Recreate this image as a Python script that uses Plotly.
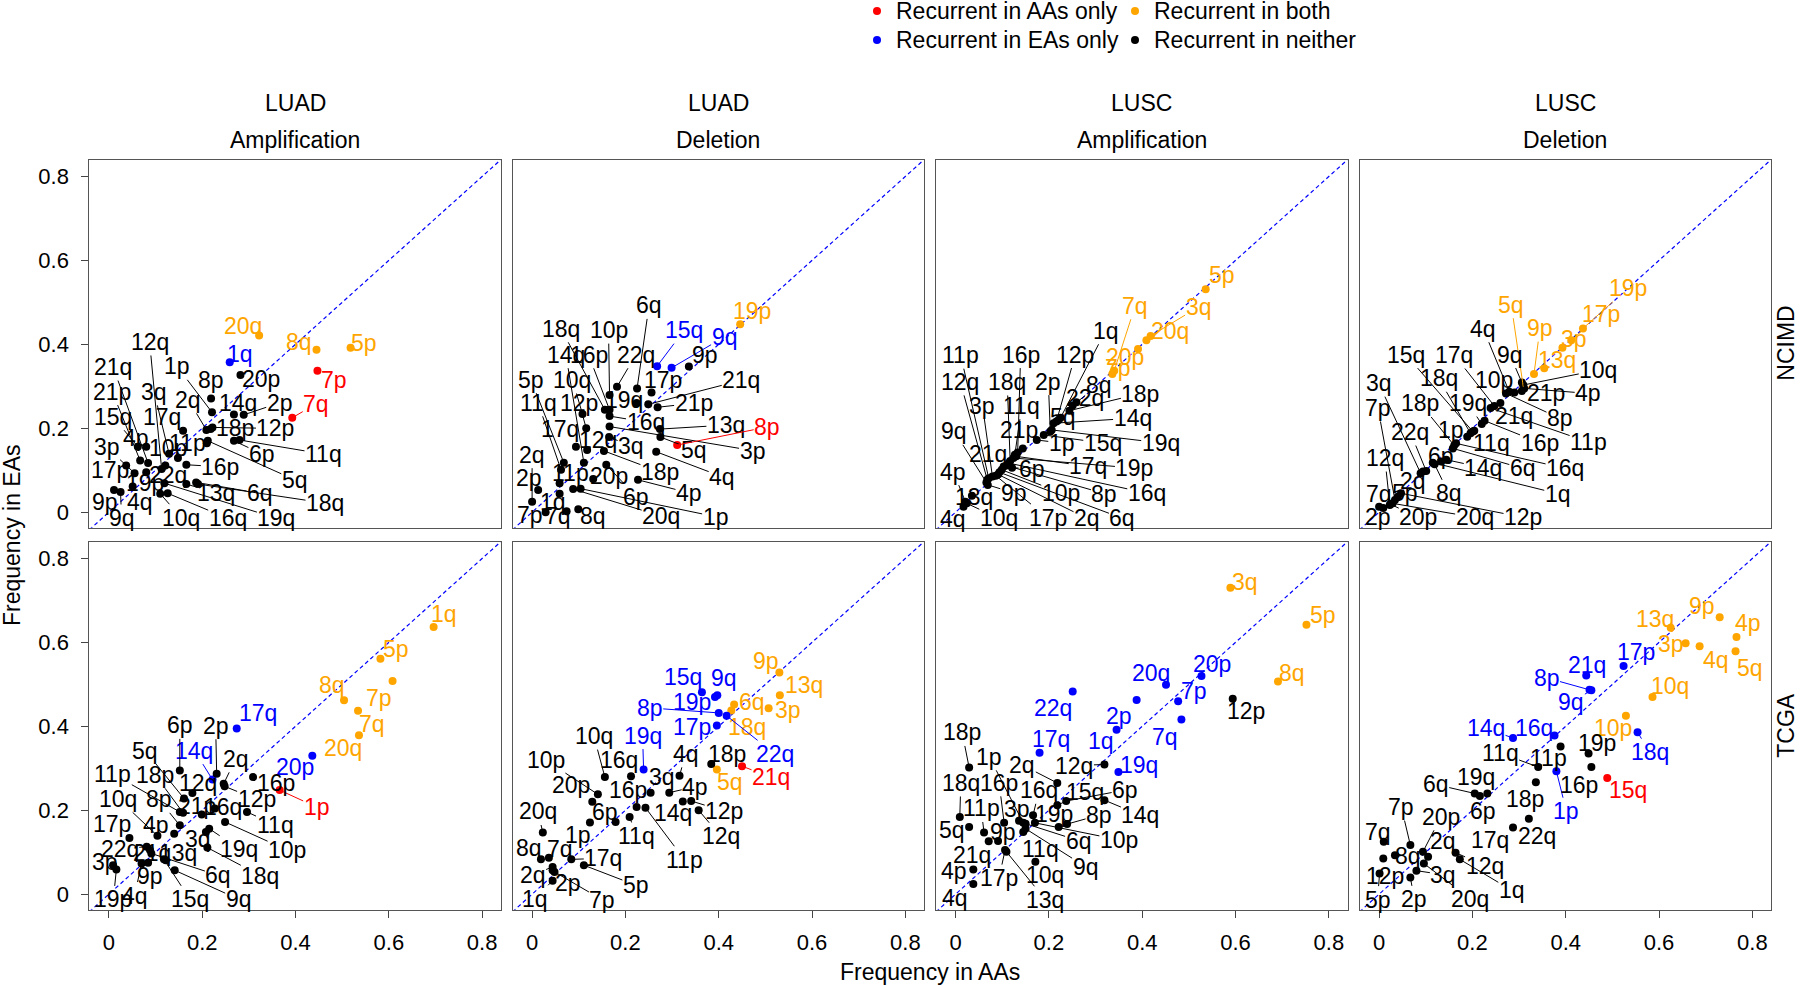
import plotly.graph_objects as go

FONT = "Liberation Sans, Arial, Helvetica, sans-serif"
FS = 23
TICK_FS = 22
STATUS_COLORS = {"A": "#FF0000", "B": "#FFA500", "E": "#0000FF", "N": "#000000"}
LEGEND_ITEMS = [("A", "Recurrent in AAs only"), ("B", "Recurrent in both"),
                ("E", "Recurrent in EAs only"), ("N", "Recurrent in neither")]

TICKS = [0, 0.2, 0.4, 0.6, 0.8]
TICK_TEXT = ["0", "0.2", "0.4", "0.6", "0.8"]
COHORTS = ["NCIMD", "TCGA"]
COL_TYPES = ["LUAD", "LUAD", "LUSC", "LUSC"]
COL_EVENTS = ["Amplification", "Deletion", "Amplification", "Deletion"]

# ---------------- NCIMD, LUAD amplification ----------------
P1_ARMS = ["1q", "20q", "8q", "5p", "7p", "7q", "20p", "8p", "1p", "14q",
           "2p", "2q", "18p", "12p", "17q", "11p", "5q", "6p", "11q", "4p",
           "21q", "21p", "15q", "3p", "17p", "19p", "22q", "3q", "12q", "10p",
           "16p", "13q", "6q", "18q", "19q", "4q", "9p", "9q", "10q", "16q"]
P1_AA = [.259, .322, .445, .518, .447, .393, .282, .219, .221, .268,
         .289, .209, .218, .222, .159, .210, .212, .268, .280, .080,
         .084, .067, .062, .055, .037, .080, .121, .129, .113, .148,
         .166, .166, .187, .191, .119, .051, .011, .025, .110, .126]
P1_EA = [.357, .421, .387, .392, .337, .225, .327, .271, .238, .233,
         .232, .196, .198, .202, .194, .164, .170, .170, .172, .156,
         .117, .123, .156, .093, .111, .095, .111, .139, .103, .129,
         .113, .067, .071, .067, .069, .061, .053, .048, .044, .045]
P1_STATUS = "EBBBAANNNN" "NNNNNNNNNN" "NNNNNNNNNN" "NNNNNNNNNN"

# ---------------- NCIMD, LUAD deletion ----------------
P2_ARMS = ["19p", "15q", "9q", "9p", "6q", "22q", "17p", "10p", "19q", "21q",
           "21p", "18q", "16p", "16q", "10q", "12p", "3p", "13q", "5q", "8p",
           "17q", "14q", "3q", "12q", "18p", "4q", "11q", "5p", "11p", "20p",
           "6p", "4p", "20q", "1p", "2p", "2q", "1q", "7p", "7q", "8q"]
P2_AA = [.446, .268, .299, .336, .225, .182, .256, .166, .224, .249,
         .269, .156, .166, .166, .108, .116, .166, .274, .275, .311,
         .094, .111, .165, .118, .154, .266, .062, .068, .059, .131,
         .159, .227, .088, .104, .013, .000, .059, .029, .074, .099]
P2_EA = [.448, .348, .344, .347, .295, .299, .285, .279, .260, .257,
         .250, .244, .244, .229, .234, .200, .204, .198, .179, .160,
         .156, .118, .179, .148, .146, .144, .101, .118, .069, .079,
         .113, .077, .055, .056, .053, .025, .044, .000, .002, .007]
P2_STATUS = "BEENNNNNNN" "NNNNNNNNNA" "NNNNNNNNNN" "NNNNNNNNNN"

# ---------------- NCIMD, LUSC amplification ----------------
P3_ARMS = ["5p", "3q", "20q", "20p", "7p", "7q", "22q", "8q", "18p", "1q",
           "5q", "12p", "14q", "2p", "19q", "15q", "1p", "21p", "16p", "11q",
           "17q", "19p", "18q", "16q", "6p", "8p", "21q", "10p", "6q", "2q",
           "17p", "3p", "11p", "12q", "9q", "9p", "13q", "4p", "10q", "4q"]
P3_AA = [.536, .418, .409, .391, .336, .340, .259, .251, .244, .225,
         .221, .216, .210, .203, .206, .189, .174, .144, .133, .127,
         .130, .124, .117, .114, .121, .109, .103, .099, .094, .091,
         .086, .079, .071, .068, .066, .069, .035, .021, .024, .017]
P3_EA = [.531, .420, .410, .389, .329, .337, .262, .254, .242, .225,
         .220, .216, .212, .192, .196, .184, .172, .152, .142, .137,
         .133, .129, .122, .117, .106, .111, .109, .101, .095, .090,
         .087, .085, .081, .077, .071, .065, .039, .025, .021, .013]
P3_STATUS = "BBBBBBNNNN" "NNNNNNNNNN" "NNNNNNNNNN" "NNNNNNNNNN"

# ---------------- NCIMD, LUSC deletion ----------------
P4_ARMS = ["19p", "17p", "3p", "13q", "9p", "5q", "9q", "10q", "4p", "21p",
           "10p", "4q", "8p", "21q", "17q", "11p", "16p", "19q", "15q", "18q",
           "11q", "1p", "16q", "6q", "18p", "14q", "6p", "1q", "8q", "22q",
           "3q", "2q", "12p", "5p", "20q", "20p", "7p", "12q", "7q", "2p"]
P4_AA = [.437, .412, .393, .354, .332, .309, .306, .309, .311, .306,
         .290, .279, .272, .260, .247, .239, .226, .220, .201, .196,
         .204, .189, .165, .158, .161, .144, .133, .115, .119, .101,
         .089, .094, .047, .040, .029, .024, .034, .023, .000, .009]
P4_EA = [.438, .410, .392, .343, .329, .299, .309, .303, .295, .289,
         .285, .287, .283, .260, .253, .248, .218, .210, .192, .188,
         .194, .180, .164, .152, .159, .125, .121, .118, .114, .098,
         .093, .097, .045, .037, .021, .019, .029, .017, .013, .010]
P4_STATUS = "BBBBBBNNNN" "NNNNNNNNNN" "NNNNNNNNNN" "NNNNNNNNNN"

# ---------------- TCGA, LUAD amplification ----------------
P5_ARMS = ["1q", "5p", "7p", "8q", "7q", "20q", "17q", "20p", "14q", "1p",
           "6p", "2p", "2q", "12p", "16p", "12q", "5q", "11p", "18p", "21p",
           "16q", "11q", "10p", "8p", "10q", "4p", "3q", "19q", "17p", "22q",
           "21q", "13q", "15q", "6q", "18q", "9p", "4q", "3p", "19p", "9q"]
P5_AA = [.696, .582, .608, .504, .534, .536, .274, .436, .222, .366,
         .152, .231, .246, .248, .309, .179, .161, .152, .159, .199,
         .227, .296, .249, .152, .104, .140, .208, .215, .044, .081,
         .088, .122, .118, .091, .211, .084, .070, .009, .016, .141]
P5_EA = [.637, .561, .508, .462, .437, .379, .395, .330, .273, .248,
         .295, .287, .263, .257, .279, .241, .228, .196, .194, .190,
         .204, .196, .172, .164, .139, .144, .148, .156, .134, .113,
         .105, .081, .083, .097, .111, .075, .073, .069, .059, .057]
P5_STATUS = "BBBBBBEEEA" "NNNNNNNNNN" "NNNNNNNNNN" "NNNNNNNNNN"

# ---------------- TCGA, LUAD deletion ----------------
P6_ARMS = ["9p", "13q", "6q", "3p", "18q", "5q", "15q", "9q", "19p", "8p",
           "17p", "22q", "19q", "21q", "18p", "4q", "3q", "4p", "10q", "16q",
           "10p", "20p", "16p", "11p", "14q", "12p", "12q", "6p", "11q", "20q",
           "1p", "8q", "7q", "17q", "5p", "2q", "2p", "7p", "1q"]
P6_AA = [.530, .531, .433, .507, .427, .396, .364, .397, .392, .400,
         .396, .417, .239, .450, .384, .316, .254, .294, .156, .212,
         .141, .129, .224, .243, .323, .341, .357, .179, .209, .023,
         .124, .019, .036, .084, .111, .044, .044, .048, .044]
P6_EA = [.528, .474, .452, .443, .438, .297, .481, .474, .470, .432,
         .402, .425, .297, .305, .310, .282, .242, .242, .279, .281,
         .238, .220, .208, .206, .221, .222, .200, .172, .184, .147,
         .171, .083, .087, .083, .069, .065, .057, .053, .032]
P6_STATUS = "BBBBBBEEEE" "EEEANNNNNN" "NNNNNNNNNN" "NNNNNNNNN"

# ---------------- TCGA, LUSC amplification ----------------
P7_ARMS = ["3q", "5p", "8q", "12p", "20p", "20q", "7p", "22q", "2p", "7q",
           "1q", "17q", "19q", "18p", "12q", "2q", "18q", "16p", "1p", "3p",
           "16q", "15q", "6p", "14q", "11p", "19p", "8p", "5q", "6q", "10p",
           "11q", "9q", "4p", "17p", "10q", "13q", "4q", "9p", "21q"]
P7_AA = [.589, .752, .691, .594, .527, .451, .477, .251, .388, .484,
         .345, .180, .349, .029, .319, .218, .009, .104, .145, .136,
         .166, .218, .237, .319, .061, .221, .239, .029, .150, .170,
         .145, .150, .038, .106, .171, .109, .038, .091, .071]
P7_EA = [.730, .642, .507, .466, .520, .499, .460, .483, .463, .416,
         .392, .337, .291, .302, .309, .265, .184, .170, .170, .175,
         .188, .212, .222, .224, .147, .160, .167, .160, .168, .170,
         .148, .156, .059, .105, .077, .101, .024, .127, .126]
P7_STATUS = "BBBNEEEEEE" "EEENNNNNNN" "NNNNNNNNNN" "NNNNNNNNN"

# ---------------- TCGA, LUSC deletion ----------------
P8_ARMS = ["13q", "9p", "4p", "3p", "4q", "5q", "10q", "10p", "17p", "21q",
           "8p", "9q", "14q", "16q", "18q", "1p", "15q", "19p", "11q", "11p",
           "16p", "18p", "19q", "6q", "6p", "22q", "17q", "7p", "20p", "7q",
           "8q", "2q", "12p", "3q", "12q", "1q", "20q", "2p", "5p"]
P8_AA = [.625, .730, .766, .657, .687, .764, .586, .529, .524, .444,
         .451, .455, .287, .376, .554, .380, .489, .449, .341, .389,
         .455, .336, .232, .205, .216, .321, .287, .067, .094, .010,
         .034, .105, .009, .080, .164, .173, .096, .067, .001]
P8_EA = [.635, .660, .613, .598, .591, .579, .470, .425, .544, .521,
         .487, .486, .372, .378, .386, .293, .277, .335, .303, .352,
         .303, .267, .240, .240, .234, .180, .159, .117, .101, .125,
         .093, .089, .085, .056, .099, .083, .073, .040, .049]
P8_STATUS = "BBBBBBBBEE" "EEEEEEANNN" "NNNNNNNNNN" "NNNNNNNNN"

# ---------- label placement (pixel offsets of label centre from point) ----------
LABEL_OFFSETS = {
    1: [(10, -8), (-16, -10), (-18, -8), (13, -5), (17, 9), (24, -14), (21, 4), (0, -18), (-35, -46), (4, -11),
        (36, -12), (-18, -30), (24, -1), (63, 1), (-21, -14), (-19, 0), (87, 39), (28, 13), (84, 14), (-10, -9),
        (-35, -96), (-28, -69), (-25, -30), (-28, -26), (-16, 4), (-1, 11), (3, 9), (-15, -62), (-12, -127), (-10, -10),
        (34, 2), (30, 9), (64, 11), (127, 19), (112, 35), (7, 15), (-9, 12), (1, 26), (21, 24), (60, 25)],
    2: [(12, -13), (27, -36), (53, -31), (16, -12), (12, -83), (19, -32), (11, -13), (-1, -65), (-13, -3), (93, -24),
        (36, -4), (-44, -81), (-21, -55), (36, 6), (-10, -34), (-7, -25), (143, 24), (66, -4), (34, 13), (90, -18),
        (-16, -18), (-18, -108), (22, 9), (11, -10), (56, 21), (66, 25), (-23, -67), (-33, -83), (11, -10), (16, -3),
        (30, 32), (51, 13), (88, 27), (135, 28), (-9, -12), (0, -47), (-7, 8), (-16, 3), (-9, 5), (15, 7)],
    3: [(16, -14), (48, -29), (24, -9), (-13, 8), (6, -6), (21, -65), (9, -4), (26, -21), (71, -17), (45, -87),
        (4, -3), (19, -67), (79, -5), (-2, -50), (109, 13), (59, 8), (25, 3), (-4, -18), (3, -98), (7, -49),
        (72, 10), (121, 10), (-3, -79), (138, 30), (20, 1), (98, 28), (-16, -12), (59, 23), (123, 46), (89, 44),
        (52, 42), (-10, -71), (-28, -123), (-27, -98), (-32, -51), (26, 8), (2, 1), (-12, -30), (32, 15), (-11, 12)],
    4: [(45, -40), (30, -26), (12, -9), (13, -8), (6, -46), (-12, -82), (-12, -28), (75, -15), (64, 5), (24, 2),
        (-20, -13), (-26, -63), (54, 25), (14, 13), (-40, -51), (98, 34), (55, 22), (-14, -21), (-67, -77), (-32, -55),
        (17, 12), (-16, -7), (109, 25), (70, 20), (-34, -42), (37, 8), (0, -5), (125, 31), (14, 29), (-16, -39),
        (-42, -90), (-10, 10), (122, 24), (7, -4), (82, 14), (28, 13), (-17, -92), (-5, -47), (0, -13), (-5, 9)],
    5: [(10, -13), (16, -10), (-14, 17), (-12, -15), (14, 13), (-16, 13), (21, -15), (-17, 11), (-18, -29), (37, 17),
        (0, -45), (-1, -48), (12, -25), (32, 13), (23, 6), (6, -10), (-39, -48), (-67, -38), (-28, -38), (-5, -8),
        (8, -2), (28, 13), (62, 28), (-21, -26), (-39, -37), (-18, -9), (-8, 7), (30, 20), (-17, -14), (-27, 2),
        (2, 3), (12, -7), (26, 40), (67, 22), (53, 28), (2, 13), (-7, 32), (-8, -3), (-3, 30), (64, 29)],
    6: [(-13, -12), (24, -10), (18, -3), (19, 2), (16, 17), (13, 12), (-19, -15), (7, -17), (-23, 5), (-69, -5),
        (-25, 2), (48, 38), (-1, -34), (29, 11), (16, -10), (6, -22), (11, -16), (26, -6), (-11, -41), (-12, -16),
        (-52, -34), (-21, -17), (-9, -17), (39, 52), (-10, 12), (33, 10), (22, 26), (-11, -10), (7, 19), (-5, -21),
        (-12, 13), (-12, -11), (11, -9), (32, -1), (52, 20), (-20, 8), (15, 13), (48, 28), (-18, 18)],
    7: [(15, -6), (17, -10), (14, -8), (13, 12), (11, -12), (-15, -12), (16, -10), (-20, 16), (-18, 16), (-16, 17),
        (-16, 11), (11, -14), (21, -7), (-7, -35), (-30, 1), (-35, -18), (1, -34), (-5, -40), (-34, -66), (-2, -12),
        (6, -25), (28, -13), (59, -11), (36, 15), (-3, -24), (-5, -13), (32, -9), (-17, 3), (53, 17), (84, 17),
        (17, 17), (60, 38), (-19, 2), (-6, 28), (10, 13), (39, 48), (-18, 14), (5, -9), (-17, 14)],
    8: [(-16, -9), (-18, -11), (12, -14), (-15, 1), (16, 14), (14, 17), (17, -11), (-13, 12), (12, -14), (1, -11),
        (-43, -12), (-20, 12), (-27, -10), (-21, -8), (12, 20), (10, 40), (21, 12), (8, -11), (-38, -14), (-12, 12),
        (-12, 18), (-11, 17), (-11, -16), (-39, -9), (3, 15), (8, 17), (-23, 13), (-9, -38), (18, -35), (-6, -10),
        (13, 1), (15, -16), (2, 17), (27, 4), (29, 13), (52, 31), (46, 35), (4, 22), (-2, 26)],
}

PANELS = [
    (1, P1_ARMS, P1_AA, P1_EA, P1_STATUS), (2, P2_ARMS, P2_AA, P2_EA, P2_STATUS),
    (3, P3_ARMS, P3_AA, P3_EA, P3_STATUS), (4, P4_ARMS, P4_AA, P4_EA, P4_STATUS),
    (5, P5_ARMS, P5_AA, P5_EA, P5_STATUS), (6, P6_ARMS, P6_AA, P6_EA, P6_STATUS),
    (7, P7_ARMS, P7_AA, P7_EA, P7_STATUS), (8, P8_ARMS, P8_AA, P8_EA, P8_STATUS),
]

# ---------------- layout geometry (pixels of the 1800x986 page) ----------------
W, H = 1800, 986
COL_PX = [(89.3, 500.8), (512.5, 924.0), (936.0, 1347.5), (1359.5, 1771.0)]
ROW_PX = [(159.7, 527.7), (541.7, 909.7)]
XR = [-0.042, 0.840]
YR = [-0.037, 0.840]

fig = go.Figure()
annotations = []
shapes = []


def paper_text(px, py, text, angle=0, xanchor="center"):
    return dict(x=px / W, y=1 - py / H, xref="paper", yref="paper", text=text,
                xanchor=xanchor, yanchor="middle", textangle=angle, showarrow=False,
                font=dict(family=FONT, size=FS, color="black"))


for idx, arms, aa, ea, status in PANELS:
    r = (idx - 1) // 4
    c = (idx - 1) % 4
    xa = "x" if idx == 1 else f"x{idx}"
    ya = "y" if idx == 1 else f"y{idx}"
    xkey = "xaxis" if idx == 1 else f"xaxis{idx}"
    ykey = "yaxis" if idx == 1 else f"yaxis{idx}"
    x0, x1 = COL_PX[c]
    y0, y1 = ROW_PX[r]
    bottom = (r == 1)
    left = (c == 0)
    fig.update_layout(**{
        xkey: dict(domain=[x0 / W, x1 / W], range=XR, anchor=ya, showgrid=False, zeroline=False,
                   showline=True, mirror=True, linecolor="#555555", linewidth=1,
                   tickmode="array", tickvals=TICKS, ticktext=TICK_TEXT,
                   ticks="outside" if bottom else "", ticklen=7, tickcolor="#444444",
                   showticklabels=bottom, ticklabelstandoff=6,
                   tickfont=dict(family=FONT, size=TICK_FS, color="black"), fixedrange=True),
        ykey: dict(domain=[1 - y1 / H, 1 - y0 / H], range=YR, anchor=xa, showgrid=False, zeroline=False,
                   showline=True, mirror=True, linecolor="#555555", linewidth=1,
                   tickmode="array", tickvals=TICKS, ticktext=TICK_TEXT,
                   ticks="outside" if left else "", ticklen=7, tickcolor="#444444",
                   showticklabels=left, ticklabelstandoff=8,
                   tickfont=dict(family=FONT, size=TICK_FS, color="black"), fixedrange=True),
    })
    # diagonal y = x
    fig.add_trace(go.Scatter(x=[XR[0], XR[1]], y=[XR[0], XR[1]], mode="lines", xaxis=xa, yaxis=ya,
                             line=dict(color="#0000FF", width=1.2, dash="4px,3px"),
                             hoverinfo="skip", showlegend=False))
    cols = [STATUS_COLORS[s] for s in status]
    fig.add_trace(go.Scatter(x=aa, y=ea, mode="markers", xaxis=xa, yaxis=ya, text=arms,
                             marker=dict(size=8, color=cols, line=dict(width=0)),
                             showlegend=False, hovertemplate="%{text}: %{x}, %{y}<extra></extra>"))
    for arm, xv, yv, s, (dx, dy) in zip(arms, aa, ea, status, LABEL_OFFSETS[idx]):
        col = STATUS_COLORS[s]
        hw = len(arm) * 0.556 * FS / 2
        hh = 0.5 * FS
        gx = max(0.0, abs(dx) - hw)
        gy = max(0.0, abs(dy) - hh)
        far = (gx * gx + gy * gy) ** 0.5 > 7
        base = dict(x=xv, y=yv, xref=xa, yref=ya, text=arm,
                    font=dict(family=FONT, size=FS, color=col))
        if far:
            annotations.append(dict(base, showarrow=True, ax=dx, ay=dy, arrowhead=0,
                                    arrowwidth=1, arrowcolor=col, standoff=0, borderpad=0))
        else:
            annotations.append(dict(base, showarrow=False, xshift=dx, yshift=-dy, borderpad=0))

# strip titles
for c in range(4):
    cx = (COL_PX[c][0] + COL_PX[c][1]) / 2
    annotations.append(paper_text(cx, 103, COL_TYPES[c]))
    annotations.append(paper_text(cx, 140, COL_EVENTS[c]))
for r in range(2):
    cy = (ROW_PX[r][0] + ROW_PX[r][1]) / 2
    annotations.append(paper_text(1786, cy, COHORTS[r], angle=-90))

# axis titles
annotations.append(paper_text(930, 972, "Frequency in AAs"))
annotations.append(paper_text(12, 535, "Frequency in EAs", angle=-90))

# legend (2 x 2)
LEG_POS = [(877, 11), (1135, 11), (877, 40), (1135, 40)]
for (key, label), (px, py) in zip(LEGEND_ITEMS, LEG_POS):
    rad = 4
    shapes.append(dict(type="circle", xref="paper", yref="paper",
                       x0=(px - rad) / W, x1=(px + rad) / W, y0=1 - (py + rad) / H, y1=1 - (py - rad) / H,
                       fillcolor=STATUS_COLORS[key], line=dict(width=0)))
    annotations.append(paper_text(px + 17, py, label, xanchor="left"))

fig.update_layout(width=W, height=H, margin=dict(l=0, r=0, t=0, b=0),
                  paper_bgcolor="white", plot_bgcolor="white",
                  annotations=annotations, shapes=shapes, showlegend=False,
                  font=dict(family=FONT, size=FS, color="black"))

fig.write_html("out.html", config={"displayModeBar": False},
               post_script="document.body.style.margin='0px';document.body.style.overflow='hidden';")
